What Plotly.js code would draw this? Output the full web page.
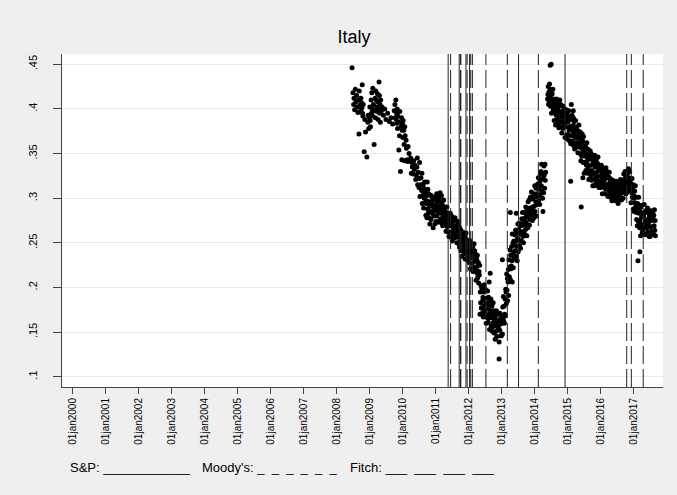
<!DOCTYPE html>
<html>
<head>
<meta charset="utf-8">
<script src="https://cdn.plot.ly/plotly-3.0.1.min.js"></script>
<style>html,body{margin:0;padding:0;background:#efefef;}</style>
</head>
<body>
<div id="chart" style="width:677px;height:495px;"></div>
<script>
// ---- data: [decimal year, value] ----
const early2008 = [[2008.47,.446],[2008.50,.418],[2008.52,.405],[2008.53,.412],[2008.55,.399],[2008.57,.422],[2008.59,.408],[2008.61,.415],[2008.63,.402],[2008.65,.396],[2008.67,.410],[2008.68,.372],[2008.69,.420],[2008.71,.404],[2008.73,.398],[2008.74,.412],[2008.76,.407],[2008.77,.401],[2008.78,.427],[2008.79,.395],[2008.80,.392],[2008.81,.405],[2008.84,.352],[2008.86,.388],[2008.88,.374],[2008.92,.346],[2008.95,.385],[2008.96,.393],[2008.98,.378],[2009.00,.390],[2009.01,.402],[2009.02,.387],[2009.03,.380],[2009.05,.410],[2009.06,.395],[2009.07,.418],[2009.08,.400],[2009.09,.392],[2009.10,.423],[2009.12,.405],[2009.14,.360],[2009.15,.398],[2009.17,.412],[2009.18,.390],[2009.19,.420],[2009.21,.410],[2009.22,.402],[2009.23,.397],[2009.24,.417],[2009.25,.408],[2009.26,.388],[2009.27,.400],[2009.29,.430],[2009.30,.415],[2009.31,.395],[2009.32,.405],[2009.33,.385],[2009.34,.410],[2009.36,.398],[2009.38,.402],[2009.42,.393],[2009.46,.400],[2009.50,.388],[2009.55,.395],[2009.60,.386],[2009.65,.390],[2009.70,.383],[2009.75,.398],[2009.77,.405],[2009.78,.390],[2009.80,.410],[2009.81,.388],[2009.82,.395],[2009.83,.384],[2009.84,.400],[2009.85,.378],[2009.86,.392],[2009.89,.354],[2009.90,.385],[2009.91,.370],[2009.92,.397],[2009.94,.330],[2009.96,.380],[2009.97,.390],[2009.98,.343],[2009.99,.376],[2010.00,.383],[2010.01,.368],[2010.02,.387],[2010.04,.376],[2010.05,.360],[2010.06,.342],[2010.07,.380],[2010.08,.370],[2010.10,.342],[2010.11,.365],[2010.12,.356],[2010.14,.343],[2010.16,.341],[2010.17,.358],[2010.18,.342],[2010.20,.350],[2010.22,.342],[2010.25,.345],[2010.27,.328],[2010.28,.340]];

const decline2010 = [[2010.30,.335],[2010.32,.327],[2010.34,.342],[2010.36,.332],[2010.38,.337],[2010.40,.321],[2010.42,.326],[2010.44,.335],[2010.46,.315],[2010.48,.329],[2010.50,.312],[2010.51,.322],[2010.53,.302],[2010.55,.315],[2010.56,.323],[2010.58,.309],[2010.59,.328],
[2010.60,.294],[2010.61,.308],[2010.62,.303],[2010.63,.316],[2010.64,.289],[2010.65,.311],[2010.66,.300],[2010.67,.318],[2010.68,.295],[2010.69,.307],
[2010.70,.306],[2010.71,.281],[2010.72,.294],[2010.73,.297],[2010.74,.278],[2010.75,.303],[2010.76,.288],[2010.77,.310],[2010.78,.283],[2010.79,.296],
[2010.80,.305],[2010.81,.278],[2010.82,.291],[2010.83,.271],[2010.84,.296],[2010.85,.291],[2010.86,.276],[2010.87,.303],[2010.88,.285],[2010.89,.294],
[2010.90,.301],[2010.91,.283],[2010.92,.292],[2010.93,.267],[2010.94,.298],[2010.95,.280],[2010.96,.287],[2010.97,.299],[2010.98,.271],[2010.99,.290],
[2011.00,.302],[2011.01,.274],[2011.02,.293],[2011.03,.280],[2011.04,.305],[2011.05,.285],[2011.06,.297],[2011.07,.273],[2011.08,.288],[2011.09,.298],
[2011.10,.274],[2011.11,.290],[2011.12,.301],[2011.13,.283],[2011.14,.306],[2011.15,.277],[2011.16,.294],[2011.17,.288],[2011.18,.303],[2011.19,.272],
[2011.20,.283],[2011.21,.296],[2011.22,.269],[2011.23,.291],[2011.24,.280],[2011.25,.298],[2011.26,.275],[2011.27,.287],[2011.28,.290],[2011.29,.272],
[2011.30,.277],[2011.31,.280],[2011.32,.263],[2011.33,.284],[2011.34,.272],[2011.35,.290],[2011.36,.268],[2011.37,.278],[2011.38,.262],[2011.39,.283],
[2011.40,.273],[2011.41,.257],[2011.42,.277],[2011.43,.273],[2011.44,.262],[2011.45,.283],[2011.46,.269],[2011.47,.276],[2011.48,.256],[2011.49,.280],
[2011.50,.270],[2011.51,.252],[2011.52,.274],[2011.53,.261],[2011.54,.266],[2011.55,.275],[2011.56,.255],[2011.57,.269],[2011.58,.258],[2011.59,.278],
[2011.60,.266],[2011.61,.256],[2011.62,.275],[2011.63,.259],[2011.64,.269],[2011.65,.250],[2011.66,.262],[2011.67,.270],[2011.68,.257],[2011.69,.274],
[2011.70,.263],[2011.71,.249],[2011.72,.268],[2011.73,.245],[2011.74,.258],[2011.75,.254],[2011.76,.265],[2011.77,.241],[2011.78,.261],[2011.79,.251],
[2011.80,.235],[2011.81,.256],[2011.82,.246],[2011.83,.262],[2011.84,.241],[2011.85,.252],[2011.86,.255],[2011.87,.238],[2011.88,.259],[2011.89,.247],
[2011.90,.232],[2011.91,.255],[2011.92,.242],[2011.93,.261],[2011.94,.237],[2011.95,.248],[2011.96,.231],[2011.97,.253],[2011.98,.248],[2011.99,.235],
[2012.00,.247],[2012.01,.241],[2012.02,.228],[2012.03,.253],[2012.04,.236],[2012.05,.245],[2012.06,.221],[2012.07,.250],[2012.08,.233],[2012.09,.240],
[2012.10,.244],[2012.11,.227],[2012.12,.234],[2012.13,.246],[2012.14,.218],[2012.15,.237],[2012.16,.223],[2012.17,.249],[2012.18,.229],[2012.19,.241],
[2012.20,.238],[2012.21,.219],[2012.22,.230],[2012.23,.208],[2012.24,.222],[2012.25,.232],[2012.26,.216],[2012.27,.236],[2012.28,.211],[2012.29,.225],
[2012.30,.228],[2012.31,.205],[2012.32,.218],[2012.33,.214],[2012.34,.225]];

const trough2012 = [[2012.35,.170],[2012.36,.195],[2012.37,.183],[2012.38,.202],[2012.39,.177],
[2012.40,.177],[2012.41,.199],[2012.42,.171],[2012.43,.185],[2012.44,.189],[2012.45,.167],[2012.46,.195],[2012.47,.179],[2012.48,.203],[2012.49,.173],
[2012.50,.174],[2012.51,.198],[2012.52,.168],[2012.53,.182],[2012.54,.160],[2012.55,.188],[2012.56,.182],[2012.57,.166],[2012.58,.196],[2012.59,.176],
[2012.60,.161],[2012.61,.189],[2012.62,.170],[2012.63,.180],[2012.64,.153],[2012.65,.185],[2012.66,.166],[2012.67,.174],[2012.68,.187],[2012.69,.157],
[2012.70,.167],[2012.71,.179],[2012.72,.151],[2012.73,.170],[2012.74,.156],[2012.75,.183],[2012.76,.161],[2012.77,.174],[2012.78,.149],[2012.79,.165],
[2012.80,.167],[2012.81,.142],[2012.82,.158],[2012.83,.169],[2012.84,.151],[2012.85,.174],[2012.86,.145],[2012.87,.162],[2012.88,.156],[2012.89,.171],
[2012.90,.161],[2012.91,.155],[2012.92,.170],[2012.93,.139],[2012.94,.164],[2012.95,.152],[2012.96,.171],[2012.97,.146],[2012.98,.159],[2012.99,.162],
[2013.00,.146],[2013.01,.162],[2013.02,.168],[2013.03,.148],[2013.04,.178],[2013.05,.164],[2013.06,.190],[2013.07,.162],[2013.08,.179],[2013.09,.160],
[2013.10,.170],[2013.11,.187],[2013.12,.168],[2013.13,.198],[2013.14,.195],[2013.15,.182],[2013.16,.215],[2013.17,.197],[2013.18,.210],[2013.19,.185],
[2013.20,.206],[2013.21,.220],[2013.22,.191],[2013.23,.231],[2013.24,.212],[2013.25,.223],[2013.26,.242],[2013.27,.209],[2013.28,.236],[2013.29,.221],
[2013.30,.224],[2013.31,.246],[2013.32,.230],[2013.33,.260],[2013.34,.236],[2013.35,.250],[2013.36,.222],[2013.37,.240],[2013.38,.252],[2013.39,.232],
[2013.40,.248],[2013.41,.259],[2013.42,.241],[2013.43,.264],[2013.44,.235],[2013.45,.252],[2013.46,.246],[2013.47,.261],[2013.48,.230],[2013.49,.255],
[2013.50,.271],[2013.51,.240],[2013.52,.265],[2013.53,.253],[2013.54,.272],[2013.55,.247],[2013.56,.260],[2013.57,.263],[2013.58,.244],[2013.59,.269],
[2013.60,.271],[2013.61,.252],[2013.62,.277],[2013.63,.262],[2013.64,.284],[2013.65,.257],[2013.66,.270],[2013.67,.250],[2013.68,.275],[2013.69,.270],
[2013.70,.260],[2013.71,.284],[2013.72,.278],[2013.73,.265],[2013.74,.290],[2013.75,.273],[2013.76,.282],[2013.77,.258],[2013.78,.287],[2013.79,.270],
[2013.80,.267],[2013.81,.296],[2013.82,.279],[2013.83,.286],[2013.84,.298],[2013.85,.270],[2013.86,.289],[2013.87,.276],[2013.88,.301],[2013.89,.281],
[2013.90,.282],[2013.91,.307],[2013.92,.287],[2013.93,.299],[2013.94,.275],[2013.95,.290],[2013.96,.300],[2013.97,.283],[2013.98,.305],[2013.99,.278],
[2014.00,.291],[2014.01,.314],[2014.02,.285],[2014.03,.302],[2014.04,.296],[2014.05,.311],[2014.06,.280],[2014.07,.305],[2014.08,.293],[2014.09,.312],
[2014.10,.316],[2014.11,.302],[2014.12,.323],[2014.13,.297],[2014.14,.310],[2014.15,.314],[2014.16,.293],[2014.17,.319],[2014.18,.304],[2014.19,.327],
[2014.20,.330],[2014.21,.314],[2014.22,.338],[2014.23,.308],[2014.24,.322],[2014.25,.300],[2014.26,.328],[2014.27,.322],[2014.28,.306],[2014.29,.336],
[2014.30,.326],[2014.31,.311],[2014.32,.338],[2014.33,.320],[2014.34,.329]];

const jump2014 = [[2014.40,.411],[2014.41,.416],[2014.42,.425],[2014.43,.405],[2014.44,.419],[2014.45,.408],[2014.46,.428],[2014.47,.412],[2014.48,.422],[2014.49,.403],
[2014.50,.405],[2014.51,.416],[2014.52,.395],[2014.53,.408],[2014.54,.417],[2014.55,.402],[2014.56,.422],[2014.57,.398],[2014.58,.411],[2014.59,.407],
[2014.60,.387],[2014.61,.401],[2014.62,.396],[2014.63,.409],[2014.64,.382],[2014.65,.404],[2014.66,.393],[2014.67,.411],[2014.68,.388],[2014.69,.400],
[2014.70,.407],[2014.71,.383],[2014.72,.395],[2014.73,.398],[2014.74,.379],[2014.75,.403],[2014.76,.390],[2014.77,.410],[2014.78,.385],[2014.79,.396],
[2014.80,.405],[2014.81,.380],[2014.82,.391],[2014.83,.373],[2014.84,.397],[2014.85,.391],[2014.86,.378],[2014.87,.403],[2014.88,.386],[2014.89,.395],
[2014.90,.400],[2014.91,.383],[2014.92,.392],[2014.93,.368],[2014.94,.397],[2014.95,.380],[2014.96,.387],[2014.97,.399],[2014.98,.371],[2014.99,.390],
[2015.00,.394],[2015.01,.366],[2015.02,.385],[2015.03,.371],[2015.04,.398],[2015.05,.376],[2015.06,.389],[2015.07,.364],[2015.08,.380],[2015.09,.391],
[2015.10,.361],[2015.11,.377],[2015.12,.388],[2015.13,.370],[2015.14,.393],[2015.15,.364],[2015.16,.381],[2015.17,.375],[2015.18,.390],[2015.19,.359],
[2015.20,.371],[2015.21,.386],[2015.22,.355],[2015.23,.380],[2015.24,.368],[2015.25,.387],[2015.26,.362],[2015.27,.375],[2015.28,.378],[2015.29,.359],
[2015.30,.367],[2015.31,.370],[2015.32,.351],[2015.33,.375],[2015.34,.362],[2015.35,.382],[2015.36,.357],[2015.37,.368],[2015.38,.350],[2015.39,.374],
[2015.40,.360],[2015.41,.342],[2015.42,.366],[2015.43,.360],[2015.44,.347],[2015.45,.372],[2015.46,.355],[2015.47,.364],[2015.48,.340],[2015.49,.369],
[2015.50,.352],[2015.51,.328],[2015.52,.357],[2015.53,.340],[2015.54,.347],[2015.55,.359],[2015.56,.331],[2015.57,.350],[2015.58,.337],[2015.59,.362],
[2015.60,.342],[2015.61,.328],[2015.62,.355],[2015.63,.333],[2015.64,.346],[2015.65,.321],[2015.66,.337],[2015.67,.348],[2015.68,.330],[2015.69,.353],
[2015.70,.344],[2015.71,.325],[2015.72,.350],[2015.73,.320],[2015.74,.337],[2015.75,.331],[2015.76,.346],[2015.77,.314],[2015.78,.341],[2015.79,.327],
[2015.80,.314],[2015.81,.341],[2015.82,.327],[2015.83,.348],[2015.84,.322],[2015.85,.335],[2015.86,.339],[2015.87,.318],[2015.88,.344],[2015.89,.329],
[2015.90,.314],[2015.91,.339],[2015.92,.324],[2015.93,.346],[2015.94,.319],[2015.95,.332],[2015.96,.312],[2015.97,.337],[2015.98,.332],[2015.99,.317],
[2016.00,.331],[2016.01,.325],[2016.02,.312],[2016.03,.337],[2016.04,.320],[2016.05,.329],[2016.06,.305],[2016.07,.334],[2016.08,.317],[2016.09,.324],
[2016.10,.329],[2016.11,.313],[2016.12,.320],[2016.13,.331],[2016.14,.305],[2016.15,.323],[2016.16,.310],[2016.17,.334],[2016.18,.315],[2016.19,.326],
[2016.20,.330],[2016.21,.312],[2016.22,.323],[2016.23,.302],[2016.24,.315],[2016.25,.324],[2016.26,.309],[2016.27,.329],[2016.28,.305],[2016.29,.318],
[2016.30,.322],[2016.31,.301],[2016.32,.313],[2016.33,.309],[2016.34,.319],[2016.35,.297],[2016.36,.315],[2016.37,.306],[2016.38,.320],[2016.39,.302],
[2016.40,.303],[2016.41,.317],[2016.42,.300],[2016.43,.308],[2016.44,.311],[2016.45,.297],[2016.46,.314],[2016.47,.305],[2016.48,.319],[2016.49,.301],
[2016.50,.303],[2016.51,.317],[2016.52,.299],[2016.53,.307],[2016.54,.294],[2016.55,.311],[2016.56,.307],[2016.57,.298],[2016.58,.316],[2016.59,.304],
[2016.60,.303],[2016.61,.321],[2016.62,.309],[2016.63,.315],[2016.64,.298],[2016.65,.318],[2016.66,.306],[2016.67,.311],[2016.68,.320],[2016.69,.300],
[2016.70,.318],[2016.71,.327],[2016.72,.307],[2016.73,.321],[2016.74,.311],[2016.75,.330],[2016.76,.314],[2016.77,.324],[2016.78,.305],[2016.79,.317],
[2016.80,.327],[2016.81,.307],[2016.82,.320],[2016.83,.328],[2016.84,.314],[2016.85,.333],[2016.86,.310],[2016.87,.323],[2016.88,.319],[2016.89,.330],
[2016.90,.313],[2016.91,.309],[2016.92,.321],[2016.93,.295],[2016.94,.316],[2016.95,.306],[2016.96,.322],[2016.97,.301],[2016.98,.312],[2016.99,.315],
[2017.00,.288],[2017.01,.300],[2017.02,.303],[2017.03,.285],[2017.04,.308],[2017.05,.295],[2017.06,.314],[2017.07,.290],[2017.08,.301],[2017.09,.284],
[2017.10,.276],[2017.11,.289],[2017.12,.269],[2017.13,.294],[2017.14,.289],[2017.15,.274],[2017.16,.301],[2017.17,.283],[2017.18,.292],[2017.19,.267],
[2017.20,.275],[2017.21,.285],[2017.22,.258],[2017.23,.290],[2017.24,.271],[2017.25,.279],[2017.26,.292],[2017.27,.262],[2017.28,.283],[2017.29,.267],
[2017.30,.261],[2017.31,.280],[2017.32,.266],[2017.33,.293],[2017.34,.271],[2017.35,.284],[2017.36,.259],[2017.37,.275],[2017.38,.286],[2017.39,.268],
[2017.40,.274],[2017.41,.284],[2017.42,.267],[2017.43,.289],[2017.44,.262],[2017.45,.277],[2017.46,.272],[2017.47,.286],[2017.48,.257],[2017.49,.281],
[2017.50,.284],[2017.51,.257],[2017.52,.279],[2017.53,.268],[2017.54,.286],[2017.55,.263],[2017.56,.275],[2017.57,.278],[2017.58,.260],[2017.59,.283],
[2017.60,.277],[2017.61,.260],[2017.62,.281],[2017.63,.269],[2017.64,.287],[2017.65,.264],[2017.66,.275],[2017.67,.258]];

const outliers = [[2010.45,.345],[2010.52,.340],[2010.75,.318],[2012.63,.206],[2012.66,.216],[2012.93,.120],[2013.03,.231],[2013.27,.284],[2013.33,.206],[2013.45,.283],[2014.26,.285],[2014.48,.449],[2014.51,.450],[2015.10,.319],[2015.12,.405],[2015.18,.398],[2015.42,.290],[2015.47,.323],[2017.14,.230],[2017.20,.240]];

// rating events (decimal year)
const spEvents = [2011.385, 2011.72, 2011.925, 2012.035, 2013.52, 2014.93];
const moodysEvents = [2011.46, 2011.76, 2012.12, 2012.53, 2014.12, 2016.94];
const fitchEvents = [2011.77, 2011.96, 2012.07, 2013.18, 2016.80, 2017.30];

// axis ticks
const yearTicks = [2000,2001,2002,2003,2004,2005,2006,2007,2008,2009,2010,2011,2012,2013,2014,2015,2016,2017];
const yearLabels = ['01jan2000','01jan2001','01jan2002','01jan2003','01jan2004','01jan2005','01jan2006','01jan2007','01jan2008','01jan2009','01jan2010','01jan2011','01jan2012','01jan2013','01jan2014','01jan2015','01jan2016','01jan2017'];
const yTicks = [0.1,0.15,0.2,0.25,0.3,0.35,0.4,0.45];
const yLabels = ['.1','.15','.2','.25','.3','.35','.4','.45'];

// ---- build ----
const allPts = [].concat(early2008, decline2010, trough2012, jump2014, outliers);
const trace = {
  type: 'scatter', mode: 'markers',
  x: allPts.map(p => p[0]), y: allPts.map(p => p[1]),
  marker: {color: '#000000', size: 5, line: {width: 0}},
  hoverinfo: 'skip', showlegend: false
};

const lineColor = '#222222';
function vlines(arr, dash) {
  return arr.map(v => ({type: 'line', xref: 'x', yref: 'paper', x0: v, x1: v, y0: 0, y1: 1,
    line: {color: lineColor, width: 1, dash: dash}, layer: 'above'}));
}
const shapes = [].concat(vlines(spEvents, 'solid'), vlines(moodysEvents, '18px,5px'), vlines(fitchEvents, '18px,5px'));

const font = 'Liberation Sans, Arial, Helvetica, sans-serif';
const nb = '\u00a0';
const noteParts = [
  {px: 68, text: 'S&P:' + nb + '____________'},
  {px: 199.5, text: 'Moody\'s:' + nb + ['_','_','_','_','_','_'].join(nb + nb)},
  {px: 347.6, text: 'Fitch:' + nb + ['___','___','___','___'].join(nb + nb)}
];
const plotLeft = 62, plotW = 601;
const annotations = noteParts.map(p => ({text: p.text, xref: 'paper', yref: 'paper',
  x: (p.px - plotLeft) / plotW, y: -0.243, xanchor: 'left', yanchor: 'middle',
  showarrow: false, font: {family: font, size: 13, color: '#000000'}}));

const layout = {
  width: 677, height: 495,
  paper_bgcolor: '#efefef', plot_bgcolor: '#ffffff',
  margin: {l: 62, r: 14, t: 54, b: 108, pad: 0},
  font: {family: font, color: '#000000'},
  title: {text: 'Italy', font: {family: font, size: 18, color: '#000000'},
          xref: 'container', yref: 'container', x: 0.523, y: 0.925, xanchor: 'center', yanchor: 'middle'},
  xaxis: {range: [1999.676, 2017.9], tickmode: 'array', tickvals: yearTicks, ticktext: yearLabels,
          tickangle: -90, ticks: 'outside', ticklen: 6, tickcolor: '#444444', tickwidth: 1,
          showline: true, linecolor: '#444444', linewidth: 1, showgrid: false, zeroline: false,
          tickfont: {family: font, size: 10, color: '#000000'}, fixedrange: true},
  yaxis: {range: [0.0885, 0.4615], tickmode: 'array', tickvals: yTicks, ticktext: yLabels,
          tickangle: -90, ticks: 'outside', ticklen: 8, tickcolor: '#444444', tickwidth: 1,
          showline: true, linecolor: '#444444', linewidth: 1, showgrid: true, gridcolor: '#e4ecef', gridwidth: 1,
          zeroline: false, ticklabelstandoff: 12,
          tickfont: {family: font, size: 11, color: '#000000'}, fixedrange: true},
  shapes: shapes,
  annotations: annotations
};

Plotly.newPlot('chart', [trace], layout, {displayModeBar: false, staticPlot: true});
</script>
</body>
</html>
